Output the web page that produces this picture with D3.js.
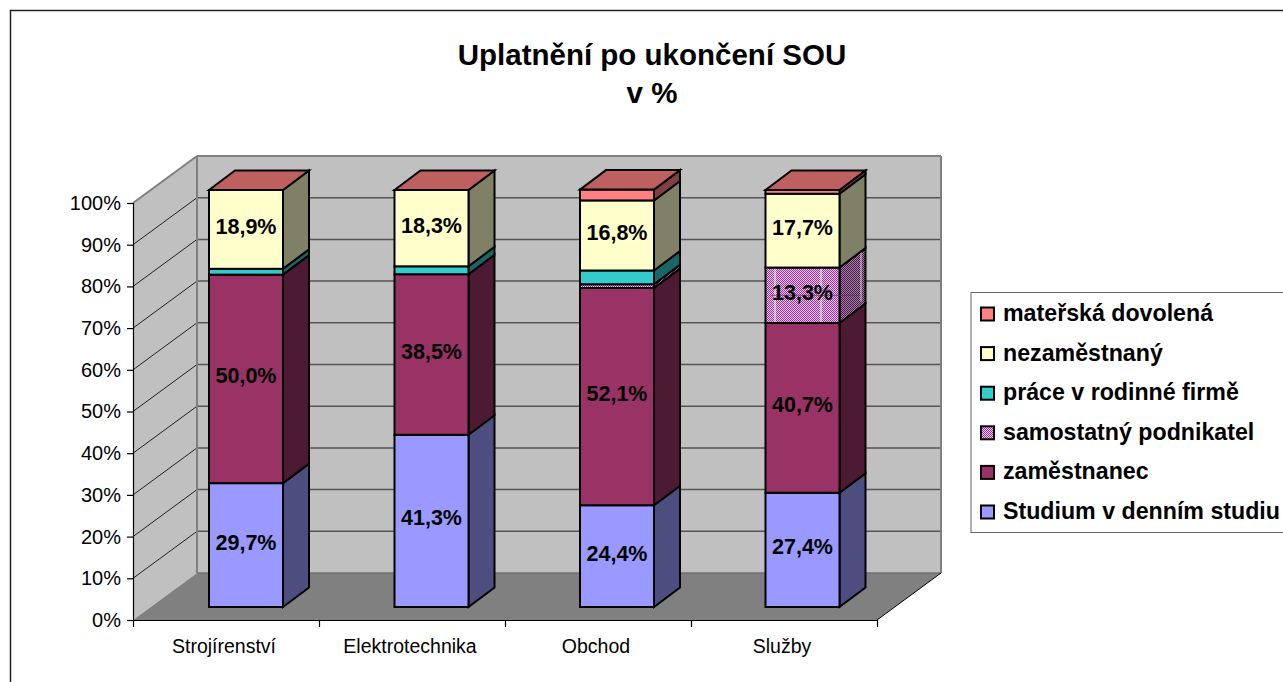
<!DOCTYPE html>
<html><head><meta charset="utf-8">
<script src="https://cdn.jsdelivr.net/npm/d3@7"></script>
<style>html,body{margin:0;padding:0;background:#fff;overflow:hidden}svg{display:block}text{font-family:"Liberation Sans",Arial,sans-serif}</style>
</head><body><svg id="c" width="1283" height="682"></svg>
<script>
const categories = ["Strojírenství","Elektrotechnika","Obchod","Služby"];
const seriesNames = ["Studium v denním studiu","zaměstnanec","samostatný podnikatel","práce v rodinné firmě","nezaměstnaný","mateřská dovolená"];
const studium = [29.7,41.3,24.4,27.4];
const zamestnanec = [50.0,38.5,52.1,40.7];
const podnikatel = [0,0,0.9,13.3];
const rodinna = [1.4,1.9,3.3,0];
const nezamestnany = [18.9,18.3,16.8,17.7];
const materska = [0,0,2.6,0.9];
const seriesValues = [studium,zamestnanec,podnikatel,rodinna,nezamestnany,materska];
const fronts = ["#9999ff","#993366","url(#hatch)","#33cccc","#ffffcc","#ff8080"];
const sides = ["#4d4d80","#4d1a33","url(#hatchD)","#1a6666","#808066","#804040"];
const labelled = [[true,true,true,true],[true,true,true,true],[false,false,false,true],[false,false,false,false],[true,true,true,true],[false,false,false,false]];
const yTicks = d3.range(0,101,10);
const fmt = v => v.toFixed(1).replace(".",",")+"%";

const svg = d3.select("#c");
const defs = svg.append("defs");
function hatch(id,bg,fg){
  const p = defs.append("pattern").attr("id",id).attr("patternUnits","userSpaceOnUse").attr("width",2).attr("height",2);
  p.append("rect").attr("width",2).attr("height",2).attr("fill",bg);
  p.append("rect").attr("width",1).attr("height",1).attr("fill",fg);
  p.append("rect").attr("x",1).attr("y",1).attr("width",1).attr("height",1).attr("fill",fg);
}
hatch("hatch","#e6c8e6","#993399");
hatch("hatchD","#a080a0","#4d1a4d");

// frame
svg.append("rect").attr("x",10.5).attr("y",10.5).attr("width",1300).attr("height",700).attr("fill","#fff").attr("stroke","#222").attr("stroke-width",1.5);

const title = svg.append("text").attr("text-anchor","middle").attr("font-weight","bold").attr("font-size",29.5).attr("fill","#000");
title.append("tspan").attr("x",652).attr("y",65).text("Uplatnění po ukončení SOU");
title.append("tspan").attr("x",652).attr("y",103).text("v %");

// 3D projection
const dx = 64, dy = -47;
const x = d3.scaleLinear().domain([0,4]).range([133,877]);
const y = d3.scaleLinear().domain([0,100]).range([620,203]);
const barX = d3.scaleLinear().domain([0,3]).range([209,765.5]);
const barW = 74, barDx = 26, barDy = -19.5, barLift = 13;
const poly = pts => pts.map(p=>p.join(",")).join(" ");

const x0=x(0), x1=x(4), yb=y(0), yt=y(100);
// walls
svg.append("polygon").attr("points",poly([[x0+dx,yb+dy],[x1+dx,yb+dy],[x1+dx,yt+dy],[x0+dx,yt+dy]])).attr("fill","#c0c0c0");
svg.append("polygon").attr("points",poly([[x0,yb],[x0+dx,yb+dy],[x0+dx,yt+dy],[x0,yt]])).attr("fill","#c0c0c0");
svg.append("polygon").attr("points",poly([[x0,yb],[x1,yb],[x1+dx,yb+dy],[x0+dx,yb+dy]])).attr("fill","#808080");
// gridlines
yTicks.slice(1).forEach(t=>{
  svg.append("line").attr("x1",x0+dx).attr("x2",x1+dx).attr("y1",y(t)+dy).attr("y2",y(t)+dy).attr("stroke",t===100?"#808080":"#555").attr("stroke-width",t===100?2:1.5);
  svg.append("line").attr("x1",x0).attr("x2",x0+dx).attr("y1",y(t)).attr("y2",y(t)+dy).attr("stroke",t===100?"#808080":"#222").attr("stroke-width",t===100?2:1);
});
svg.append("line").attr("x1",x0+dx).attr("x2",x0+dx).attr("y1",yb+dy).attr("y2",yt+dy).attr("stroke","#808080").attr("stroke-width",2);
svg.append("line").attr("x1",x1+dx).attr("x2",x1+dx).attr("y1",yb+dy).attr("y2",yt+dy).attr("stroke","#808080").attr("stroke-width",2);
svg.append("line").attr("x1",x0+dx).attr("x2",x1+dx).attr("y1",yb+dy).attr("y2",yb+dy).attr("stroke","#707070").attr("stroke-width",1.5);
svg.append("line").attr("x1",x1).attr("x2",x1+dx).attr("y1",yb).attr("y2",yb+dy).attr("stroke","#000").attr("stroke-width",1);

// axes
const yAxis = d3.axisLeft(y).tickValues(yTicks).tickFormat(d=>d+"%").tickSize(6).tickPadding(6);
const gy = svg.append("g").attr("transform",`translate(${x0},0)`).call(yAxis);
gy.selectAll("text").attr("font-size",20).attr("fill","#000").attr("font-family",'"Liberation Sans",Arial,sans-serif');
gy.selectAll("line,path").attr("stroke","#000").attr("stroke-width",1.2);
const xAxis = d3.axisBottom(x).tickValues(d3.range(0,5)).tickFormat("").tickSize(7).tickSizeOuter(0);
const gx = svg.append("g").attr("transform",`translate(0,${yb})`).call(xAxis);
gx.selectAll("line,path").attr("stroke","#000").attr("stroke-width",1.2);
categories.forEach((c,i)=>{
  svg.append("text").attr("x",(x(i)+x(i+1))/2-2).attr("y",653).attr("text-anchor","middle").attr("font-size",19.5).attr("fill","#000").text(c);
});

// bars
const stroke = {stroke:"#000","stroke-width":2,"stroke-linejoin":"miter"};
function styled(sel){ Object.entries(stroke).forEach(([k,v])=>sel.attr(k,v)); return sel; }
const ph = v => yb - y(v); // height of v percent
const gb = svg.append("g");
categories.forEach((c,i)=>{
  const bx = barX(i);
  const base = yb - barLift;
  let cum = 0, topIdx = 0;
  seriesValues.forEach((vals,s)=>{ if(vals[i]>0) topIdx=s; });
  seriesValues.forEach((vals,s)=>{
    const v = vals[i];
    if(v<=0) return;
    const yBot = base - ph(cum), yTop = base - ph(cum+v);
    styled(gb.append("polygon").attr("points",poly([[bx+barW,yBot],[bx+barW+barDx,yBot+barDy],[bx+barW+barDx,yTop+barDy],[bx+barW,yTop]])).attr("fill",sides[s]));
    styled(gb.append("rect").attr("x",bx).attr("y",yTop).attr("width",barW).attr("height",yBot-yTop).attr("fill",fronts[s]));
    if(s===2 && v>5){ // stripes of the hatch, as in the reference
      [9.5,55.5].forEach(o=>gb.append("line").attr("x1",bx+o).attr("x2",bx+o).attr("y1",yTop+1).attr("y2",yBot-1).attr("stroke","#fff").attr("stroke-width",1));
      const ym = (yTop+yBot)/2;
      gb.append("line").attr("x1",bx+5).attr("x2",bx+barW+barDx-3).attr("y1",ym).attr("y2",ym).attr("stroke","#6a2a6a").attr("stroke-width",1).attr("stroke-opacity",0.7);
      gb.append("line").attr("x1",bx+barW+21.5).attr("x2",bx+barW+21.5).attr("y1",yTop+barDy+2).attr("y2",yBot+barDy-2).attr("stroke","#d8c0d8").attr("stroke-width",1);
    }
    if(s===topIdx){
      styled(gb.append("polygon").attr("points",poly([[bx,yTop],[bx+barDx,yTop+barDy],[bx+barW+barDx,yTop+barDy],[bx+barW,yTop]])).attr("fill","#bf6060"));
    }
    cum += v;
  });
  cum = 0;
  seriesValues.forEach((vals,s)=>{
    const v = vals[i];
    if(labelled[s][i]){
      const yc = base - ph(cum + v/2);
      gb.append("text").attr("x",bx+barW/2).attr("y",yc+4.5).attr("text-anchor","middle").attr("font-size",21.5).attr("font-weight","bold").attr("fill","#000").text(fmt(v));
    }
    cum += v;
  });
});

// legend
const lg = svg.append("g");
lg.append("rect").attr("x",971).attr("y",292.5).attr("width",330).attr("height",240).attr("fill","#fff").attr("stroke","#666").attr("stroke-width",1);
const order = seriesNames.map((n,i)=>i).reverse();
order.forEach((s,k)=>{
  const yy = 314 + k*39.6;
  const fill = fronts[s];
  lg.append("rect").attr("x",981).attr("y",yy-6.5).attr("width",13).attr("height",13).attr("fill",fill).attr("stroke","#000").attr("stroke-width",2);
  lg.append("text").attr("x",1003).attr("y",yy+7).attr("font-size",23.2).attr("font-weight","bold").attr("fill","#000").text(seriesNames[s]);
});
</script></body></html>
